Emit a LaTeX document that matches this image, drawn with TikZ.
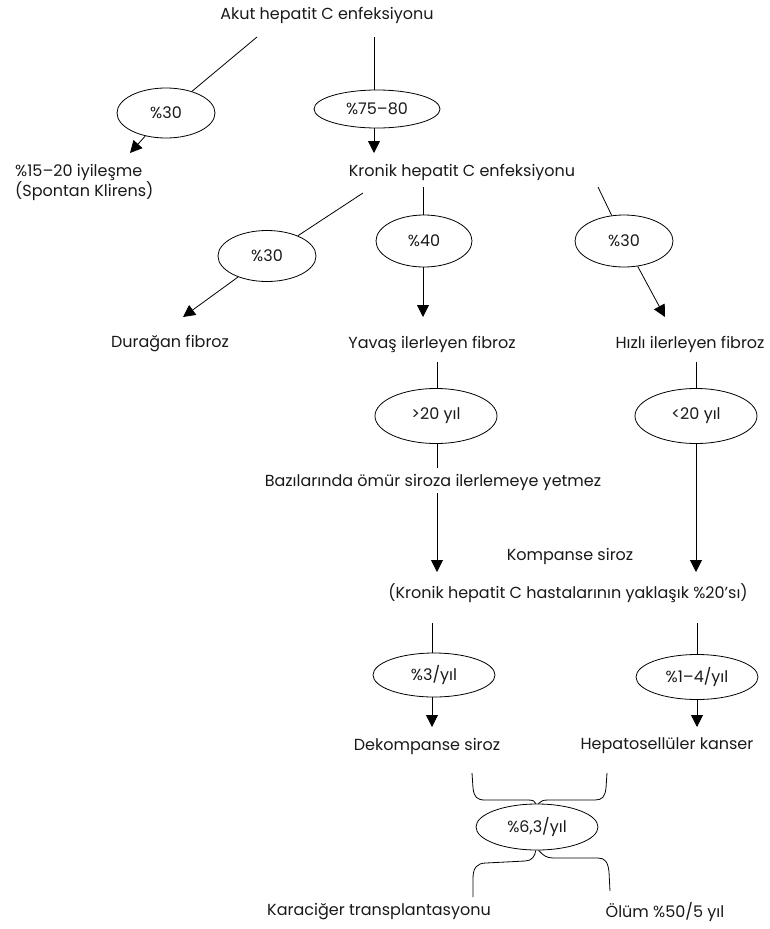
\documentclass[tikz,border=0pt]{standalone}
\usepackage{fontspec}
\setmainfont{Poppins}
\usetikzlibrary{shapes.geometric,arrows.meta}
\begin{document}
\begin{tikzpicture}[x=1pt,y=-1pt,
  lbl/.style={font=\fontsize{16}{20}\selectfont, inner sep=0pt, text=black!90},
  ell/.style={draw, ellipse, line width=0.8pt, inner sep=0pt, font=\fontsize{16}{18}\selectfont, text=black!90},
  conn/.style={line width=0.8pt},
  arr/.style={line width=0.8pt, -{Triangle[width=12pt,length=12pt]}}]
\useasboundingbox (0,0) rectangle (770,929);

% level 0
\node[lbl] (akut) at (327,15) {Akut hepatit C enfeksiyonu};
\coordinate (a1) at (257,37);
\coordinate (a2) at (374,37);
\node[ell, minimum width=98pt, minimum height=50pt] (e30a) at (166,113) {\%30};
\node[ell, minimum width=126pt, minimum height=38pt] (e7580) at (377,109) {\%75–80};
\coordinate (ta1) at (130,153);
\coordinate (ta2) at (374,153);
\draw[conn] (a1) -- (e30a);
\draw[conn] (a2) -- (a2 |- e7580.north);
\draw[arr] (e30a) -- (ta1);
\draw[arr] (ta2 |- e7580.south) -- (ta2);

\node[lbl, align=left, anchor=west] (iyi) at (15,182) {\%15–20 iyileşme\\(Spontan Klirens)};
\node[lbl] (kronik) at (462,172) {Kronik hepatit C enfeksiyonu};

% level 1
\coordinate (k1) at (363,193);
\coordinate (k2) at (423,187);
\coordinate (k3) at (598,187);
\node[ell, minimum width=98pt, minimum height=51pt] (e30b) at (267,256) {\%30};
\node[ell, minimum width=96pt, minimum height=52pt] (e40) at (424,241) {\%40};
\node[ell, minimum width=98pt, minimum height=52pt] (e30c) at (624,241) {\%30};
\draw[conn] (k1) -- (e30b);
\draw[conn] (k2) -- (k2 |- e40.north);
\draw[conn] (k3) -- (e30c);
\coordinate (tb1) at (183,317);
\coordinate (tb2) at (423,317);
\coordinate (tb3) at (665,317);
\draw[arr] (e30b) -- (tb1);
\draw[arr] (tb2 |- e40.south) -- (tb2);
\draw[arr] (e30c) -- (tb3);

\node[lbl] (duragan) at (170,344) {Durağan fibroz};
\node[lbl] (yavas) at (432,344) {Yavaş ilerleyen fibroz};
\node[lbl] (hizli) at (690,344) {Hızlı ilerleyen fibroz};

% level 2
\coordinate (y1) at (437,362);
\coordinate (h1) at (696,362);
\node[ell, minimum width=122pt, minimum height=55pt] (e20a) at (436,416) {>20 yıl};
\node[ell, minimum width=122pt, minimum height=55pt] (e20b) at (696,416) {<20 yıl};
\draw[conn] (y1) -- (y1 |- e20a.north);
\draw[conn] (h1) -- (e20b);
\coordinate (y2) at (437,468);
\draw[conn] (y2 |- e20a.south) -- (y2);
\node[lbl] (bazi) at (433,482) {Bazılarında ömür siroza ilerlemeye yetmez};
\coordinate (y3) at (437,493);
\coordinate (y4) at (437,572);
\draw[arr] (y3) -- (y4);
\coordinate (h2) at (696,572);
\draw[arr] (e20b) -- (h2);

\node[lbl] (komp) at (570,556) {Kompanse siroz};
\node[lbl] (yuzde) at (568,593) {(Kronik hepatit C hastalarının yaklaşık \%20’sı)};

% level 3
\coordinate (c1) at (432,623);
\coordinate (c2) at (697,623);
\node[ell, minimum width=122pt, minimum height=44pt] (e3) at (434,675) {\%3/yıl};
\node[ell, minimum width=122pt, minimum height=45pt] (e14) at (697,677) {\%1–4/yıl};
\draw[conn] (c1) -- (c1 |- e3.north);
\draw[conn] (c2) -- (e14);
\coordinate (d1) at (432,727);
\coordinate (d2) at (697,727);
\draw[arr] (d1 |- e3.south) -- (d1);
\draw[arr] (e14) -- (d2);

\node[lbl] (dekomp) at (427,746) {Dekompanse siroz};
\node[lbl] (hcc) at (667,746) {Hepatosellüler kanser};

% braces
\node[ell, minimum width=122pt, minimum height=46pt] (e63) at (537,827) {\%6,3/yıl};
\coordinate (bl) at (472,773);
\coordinate (br) at (607,773);
\draw[conn] (bl) -- (473,788) .. controls (474,797) and (477,800) .. (485,800) -- (528,800) .. controls (533,800) and (535,801) .. (e63.93);
\draw[conn] (br) -- (606,788) .. controls (605,797) and (602,800) .. (595,800) -- (548,800) .. controls (543,800) and (541,801) .. (e63.87);
\coordinate (ol) at (473,897);
\coordinate (or) at (610,891);
\draw[conn] (e63.-93) .. controls (535,856) and (532,861) .. (525,861) -- (486,863) .. controls (477,863) and (473,868) .. (473,878) -- (ol);
\draw[conn] (e63.-86) .. controls (543,855) and (546,858) .. (553,858) -- (598,858) .. controls (605,858) and (608,862) .. (609,872) -- (or);

\node[lbl] (karaciger) at (379,912) {Karaciğer transplantasyonu};
\node[lbl] (olum) at (665,912) {Ölüm \%50/5 yıl};
\end{tikzpicture}
\end{document}
